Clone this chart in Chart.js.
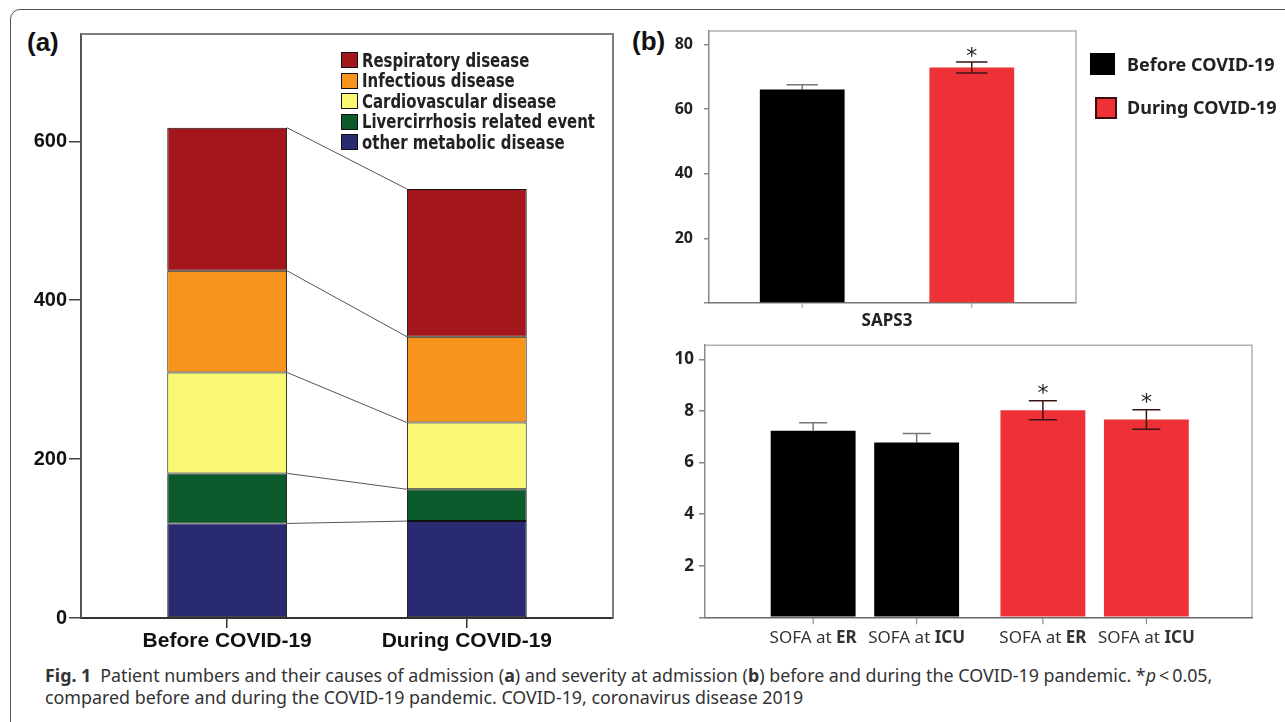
<!DOCTYPE html>
<html>
<head>
<meta charset="utf-8">
<script src="https://cdn.jsdelivr.net/npm/chart.js@4.4.1/dist/chart.umd.min.js"></script>
<style>
  html, body { margin:0; padding:0; background:#fff; }
  body { width:1285px; height:722px; overflow:hidden; position:relative; font-family:"Noto Sans", sans-serif; color:#222; }
  #frame { position:absolute; left:10px; top:9px; width:1320px; height:760px; border:1px solid #555; border-radius:10px; box-sizing:border-box; }
  canvas { position:absolute; }
  .panel { position:absolute; font-weight:700; font-family:"Liberation Sans", Arial, sans-serif; font-size:26px; line-height:1; color:#111; }
  #legA { position:absolute; left:341px; top:50px; }
  #legA .row { height:20.5px; display:flex; align-items:center; white-space:nowrap; }
  #legA .sw { width:15px; height:14px; border:1px solid #111; margin-right:4px; flex:none; }
  #legA .tx { display:inline-block; transform-origin:0 50%; font-family:"Liberation Sans Narrow","Arial Narrow","DejaVu Sans Condensed",sans-serif; font-weight:700; font-size:19px; color:#222; line-height:1; }
  #legB .sw { position:absolute; box-sizing:border-box; }
  #legB .tx { position:absolute; font-family:"Noto Sans", sans-serif; font-weight:700; font-size:18px; color:#222; white-space:nowrap; line-height:1; }
  #caption { position:absolute; left:45px; top:664px; font-family:"Noto Sans", sans-serif; font-size:16px; color:#333; line-height:22px; white-space:nowrap; }
  #caption div { display:block; }
  #caption span.line { display:inline-block; }
  #caption b.fig { font-weight:700; margin-right:0.5em; }
</style>
</head>
<body>
<div id="frame"></div>
<div class="panel" style="left:27px; top:29px;">(a)</div>
<div class="panel" style="left:632px; top:28px;">(b)</div>

<canvas id="chartA" width="640" height="660" style="left:0; top:0; width:640px; height:660px;"></canvas>
<div id="legA"></div>

<canvas id="chartB1" width="470" height="335" style="left:620px; top:0; width:470px; height:335px;"></canvas>
<div id="legB"></div>

<canvas id="chartB2" width="650" height="330" style="left:620px; top:330px; width:650px; height:330px;"></canvas>

<div id="caption">
  <div><span class="line" id="capLine1"><b class="fig">Fig. 1</b>Patient numbers and their causes of admission (<b>a</b>) and severity at admission (<b>b</b>) before and during the COVID-19 pandemic. *<i>p</i>&thinsp;&lt;&thinsp;0.05,</span></div>
  <div><span class="line">compared before and during the COVID-19 pandemic. COVID-19, coronavirus disease 2019</span></div>
</div>

<script>
// ---------------- DATA ----------------
// Panel (a): patient numbers by cause of admission
const periods = ['Before COVID-19', 'During COVID-19'];
const causeLabels = ['Respiratory disease', 'Infectious disease', 'Cardiovascular disease', 'Livercirrhosis related event', 'other metabolic disease'];
const respiratory = [180, 186];
const infectious = [128, 108];
const cardiovascular = [127, 84];
const livercirrhosis = [63, 40];
const otherMetabolic = [119, 122];
const countTicks = [0, 200, 400, 600];

// Panel (b) top: SAPS3
const sapsCategory = ['SAPS3'];
const sapsMean = [66.0, 72.8];      // before, during
const sapsErr = [1.5, 1.7];
const sapsSig = [false, true];
const sapsTicks = [20, 40, 60, 80];

// Panel (b) bottom: SOFA scores
const sofaPrefix = 'SOFA at ';
const sofaSites = ['ER', 'ICU'];
const sofaErMean = [7.23, 8.03];    // before, during
const sofaErErr = [0.31, 0.37];
const sofaIcuMean = [6.78, 7.67];
const sofaIcuErr = [0.35, 0.38];
const sofaErSig = [false, true];
const sofaIcuSig = [false, true];
const sofaTicks = [2, 4, 6, 8, 10];

// ---------------- STYLE ----------------
const causeColors = ['#A3161B', '#F7941E', '#FAF773', '#0B5A2B', '#2A2A72'];
const periodColors = ['#000000', '#EE3137'];
const errUpper = ['#777777', '#3a1414'];
const errLower = ['#000000', '#3a1414'];

// ---------------- PLUGINS ----------------
const boxPlugin = {
  id: 'box',
  afterDraw(chart, args, o) {
    const { left, right, top, bottom } = chart.chartArea;
    const ctx = chart.ctx;
    ctx.save();
    ctx.strokeStyle = o.color; ctx.lineWidth = o.width;
    ctx.beginPath();
    ctx.moveTo(left, top); ctx.lineTo(right, top); ctx.lineTo(right, bottom);
    ctx.stroke();
    ctx.restore();
  }
};

const connectorPlugin = {
  id: 'connectors',
  afterDatasetsDraw(chart, args, o) {
    const ctx = chart.ctx;
    ctx.save();
    ctx.strokeStyle = o.color; ctx.lineWidth = o.width;
    chart.data.datasets.forEach((ds, di) => {
      const els = chart.getDatasetMeta(di).data;
      for (let i = 0; i < els.length - 1; i++) {
        const a = els[i], b = els[i + 1];
        ctx.beginPath();
        ctx.moveTo(a.x + a.width / 2, a.y);
        ctx.lineTo(b.x - b.width / 2, b.y);
        ctx.stroke();
      }
    });
    ctx.restore();
  }
};

const errorBarPlugin = {
  id: 'errorBars',
  afterDatasetsDraw(chart, args, o) {
    const ctx = chart.ctx, ys = chart.scales.y;
    chart.data.datasets.forEach((ds, di) => {
      if (!ds.errors) return;
      const meta = chart.getDatasetMeta(di);
      meta.data.forEach((el, i) => {
        const raw = ds.data[i];
        const v = (typeof raw === 'object') ? raw.y : raw;
        const e = ds.errors[i];
        const pi = ds.periodIndex != null ? ds.periodIndex : i;
        const yTop = ys.getPixelForValue(v + e), yBot = ys.getPixelForValue(v - e);
        const cap = el.width * o.capRatio;
        ctx.save();
        ctx.lineWidth = o.width;
        ctx.strokeStyle = errLower[pi];
        ctx.beginPath();
        ctx.moveTo(el.x, el.y); ctx.lineTo(el.x, yBot);
        ctx.moveTo(el.x - cap / 2, yBot); ctx.lineTo(el.x + cap / 2, yBot);
        ctx.stroke();
        ctx.strokeStyle = errUpper[pi];
        ctx.beginPath();
        ctx.moveTo(el.x, el.y); ctx.lineTo(el.x, yTop);
        ctx.moveTo(el.x - cap / 2, yTop); ctx.lineTo(el.x + cap / 2, yTop);
        ctx.stroke();
        if (ds.sig && ds.sig[i]) {
          ctx.fillStyle = '#222';
          ctx.font = '22px "DejaVu Sans", sans-serif';
          ctx.textAlign = 'center';
          ctx.textBaseline = 'alphabetic';
          ctx.fillText('*', el.x, yTop + o.starOffset);
        }
        ctx.restore();
      });
    });
  }
};

const barTickPlugin = {
  id: 'barTicks',
  afterDraw(chart, args, o) {
    const ctx = chart.ctx, bottom = chart.chartArea.bottom;
    ctx.save();
    chart.data.datasets.forEach((ds, di) => {
      chart.getDatasetMeta(di).data.forEach((el) => {
        ctx.strokeStyle = o.color; ctx.lineWidth = 1;
        ctx.beginPath(); ctx.moveTo(el.x, bottom); ctx.lineTo(el.x, bottom + o.length); ctx.stroke();
        if (o.labels) {
          const pre = sofaPrefix, site = ds.label;
          ctx.font = o.font; const w1 = ctx.measureText(pre).width;
          ctx.font = o.boldFont; const w2 = ctx.measureText(site).width;
          const x0 = el.x - (w1 + w2) / 2;
          ctx.fillStyle = o.textColor; ctx.textBaseline = 'middle'; ctx.textAlign = 'left';
          ctx.font = o.font; ctx.fillText(pre, x0, bottom + o.textOffset);
          ctx.font = o.boldFont; ctx.fillText(site, x0 + w1, bottom + o.textOffset);
        }
      });
    });
    ctx.restore();
  }
};

// ---------------- PANEL (a) ----------------
const stackSeries = [otherMetabolic, livercirrhosis, cardiovascular, infectious, respiratory];
const stackNames = causeLabels.slice().reverse();
const stackColors = causeColors.slice().reverse();

new Chart(document.getElementById('chartA'), {
  type: 'bar',
  data: {
    datasets: stackSeries.map((arr, k) => ({
      label: stackNames[k],
      data: arr.map((v, i) => ({ x: i + 1, y: v })),
      backgroundColor: stackColors[k],
      borderColor: '#111',
      borderWidth: 1,
      borderSkipped: false,
      categoryPercentage: 0.5,
      barPercentage: 1.0
    }))
  },
  options: {
    responsive: false, animation: false, devicePixelRatio: 1,
    layout: { padding: { left: 0, right: 27, top: 34, bottom: 0 } },
    plugins: {
      legend: { display: false }, tooltip: { enabled: false },
      box: { color: '#7d7d7d', width: 2 },
      connectors: { color: '#555', width: 1 }
    },
    scales: {
      x: {
        type: 'linear', stacked: true, min: 0.39, max: 2.61, offset: false,
        afterBuildTicks: (s) => { s.ticks = periods.map((p, i) => ({ value: i + 1 })); },
        afterFit: (s) => { s.height = 42; },
        ticks: { callback: (v) => periods[Math.round(v) - 1], color: '#111', padding: 1, maxRotation: 0, autoSkip: false,
                 font: { family: '"Liberation Sans", Arial, sans-serif', size: 21, weight: 'bold' } },
        grid: { display: true, offset: false, drawOnChartArea: false, drawTicks: true, tickLength: 10, color: '#333', lineWidth: 1.5 },
        border: { display: true, color: '#333', width: 2 }
      },
      y: {
        stacked: true, min: 0, max: 735,
        afterBuildTicks: (s) => { s.ticks = countTicks.map(v => ({ value: v })); },
        afterFit: (s) => { s.width = 81; },
        ticks: { color: '#111', padding: 2,
                 font: { family: '"Liberation Sans", Arial, sans-serif', size: 20, weight: 'bold' } },
        grid: { display: true, drawOnChartArea: false, drawTicks: true, tickLength: 12, color: '#444', lineWidth: 1.5 },
        border: { display: true, color: '#555', width: 2 }
      }
    }
  },
  plugins: [boxPlugin, connectorPlugin]
});

// legend (a)
(function () {
  const leg = document.getElementById('legA');
  causeLabels.forEach((name, i) => {
    const row = document.createElement('div'); row.className = 'row';
    const sw = document.createElement('span'); sw.className = 'sw'; sw.style.background = causeColors[i];
    const tx = document.createElement('span'); tx.className = 'tx'; tx.textContent = name;
    row.appendChild(sw); row.appendChild(tx); leg.appendChild(row);
  });
})();

// ---------------- PANEL (b) top: SAPS3 ----------------
new Chart(document.getElementById('chartB1'), {
  type: 'bar',
  data: {
    datasets: periods.map((p, i) => ({
      label: p,
      data: [{ x: 1, y: sapsMean[i] }],
      errors: [sapsErr[i]],
      sig: [sapsSig[i]],
      periodIndex: i,
      backgroundColor: periodColors[i],
      borderWidth: 0,
      categoryPercentage: 0.924,
      barPercentage: 0.5
    }))
  },
  options: {
    responsive: false, animation: false, devicePixelRatio: 1,
    layout: { padding: { left: 0, right: 14, top: 31, bottom: 0 } },
    plugins: {
      legend: { display: false }, tooltip: { enabled: false },
      box: { color: '#b0b0b0', width: 1.5 },
      errorBars: { capRatio: 0.37, width: 1.5, starOffset: 1 },
      barTicks: { color: '#999', length: 5, labels: false }
    },
    scales: {
      x: {
        type: 'linear', min: 0.515, max: 1.515, offset: false,
        afterBuildTicks: (s) => { s.ticks = sapsCategory.map((c, i) => ({ value: i + 1 })); },
        afterFit: (s) => { s.height = 32; },
        ticks: { callback: (v) => sapsCategory[Math.round(v) - 1], color: '#222', padding: 8, maxRotation: 0,
                 font: { family: '"Noto Sans", sans-serif', size: 17, weight: 'bold' } },
        grid: { display: false, offset: false, drawTicks: false },
        border: { display: true, color: '#777', width: 1.5 }
      },
      y: {
        min: 0, max: 84.1,
        afterBuildTicks: (s) => { s.ticks = [0].concat(sapsTicks).map(v => ({ value: v })); },
        afterFit: (s) => { s.width = 89; },
        ticks: { callback: (v) => v === 0 ? '' : v, color: '#222', padding: 11,
                 font: { family: '"Noto Sans", sans-serif', size: 16, weight: 'bold' } },
        grid: { display: true, drawOnChartArea: false, drawTicks: true, tickLength: 5, color: '#888', lineWidth: 1.5 },
        border: { display: true, color: '#8a8a8a', width: 1.5 }
      }
    }
  },
  plugins: [boxPlugin, errorBarPlugin, barTickPlugin]
});

// legend (b)
(function () {
  const leg = document.getElementById('legB');
  const swPos = [{ l: 1090, t: 53, w: 25, h: 22, b: 'none' }, { l: 1095, t: 97, w: 22, h: 22, b: '2px solid #3a0d0d' }];
  const txTop = [55, 98];
  periods.forEach((p, i) => {
    const sw = document.createElement('div'); sw.className = 'sw';
    sw.style.cssText = `left:${swPos[i].l}px;top:${swPos[i].t}px;width:${swPos[i].w}px;height:${swPos[i].h}px;background:${periodColors[i]};border:${swPos[i].b};`;
    const tx = document.createElement('div'); tx.className = 'tx';
    tx.style.left = '1127px'; tx.style.top = txTop[i] + 'px'; tx.textContent = p;
    leg.appendChild(sw); leg.appendChild(tx);
  });
})();

// ---------------- PANEL (b) bottom: SOFA ----------------
const sofaMeans = [sofaErMean, sofaIcuMean];
const sofaErrs = [sofaErErr, sofaIcuErr];
const sofaSigs = [sofaErSig, sofaIcuSig];

new Chart(document.getElementById('chartB2'), {
  type: 'bar',
  data: {
    datasets: sofaSites.map((site, k) => ({
      label: site,
      data: periods.map((p, i) => ({ x: i + 1, y: sofaMeans[k][i] })),
      errors: sofaErrs[k],
      sig: sofaSigs[k],
      backgroundColor: periodColors,
      borderWidth: 0,
      categoryPercentage: 0.901,
      barPercentage: 0.82
    }))
  },
  options: {
    responsive: false, animation: false, devicePixelRatio: 1,
    layout: { padding: { left: 0, right: 18, top: 14, bottom: 0 } },
    plugins: {
      legend: { display: false }, tooltip: { enabled: false },
      box: { color: '#b0b0b0', width: 1.5 },
      errorBars: { capRatio: 0.33, width: 1.5, starOffset: -1 },
      barTicks: { color: '#777', length: 7, labels: true, textOffset: 21, textColor: '#333',
                  font: '17px "Noto Sans", sans-serif', boldFont: 'bold 17px "Noto Sans", sans-serif' }
    },
    scales: {
      x: {
        type: 'linear', min: 0.304, max: 2.685, offset: false,
        afterBuildTicks: (s) => { s.ticks = periods.map((p, i) => ({ value: i + 1 })); },
        afterFit: (s) => { s.height = 42.7; },
        ticks: { display: false },
        grid: { display: false, offset: false, drawTicks: false },
        border: { display: true, color: '#666', width: 1.5 }
      },
      y: {
        min: 0, max: 10.55,
        afterBuildTicks: (s) => { s.ticks = [0].concat(sofaTicks).map(v => ({ value: v })); },
        afterFit: (s) => { s.width = 85; },
        ticks: { callback: (v) => v === 0 ? '' : v, color: '#222', padding: 5,
                 font: { family: '"Noto Sans", sans-serif', size: 17, weight: 'bold' } },
        grid: { display: true, drawOnChartArea: false, drawTicks: true, tickLength: 6, color: '#888', lineWidth: 1.5 },
        border: { display: true, color: '#8a8a8a', width: 1.5 }
      }
    }
  },
  plugins: [boxPlugin, errorBarPlugin, barTickPlugin]
});

// ---------------- text fitting ----------------
(function fitText() {
  // legend (a): longest entry spans ~233px in the reference
  const txs = Array.from(document.querySelectorAll('#legA .tx'));
  const maxW = Math.max.apply(null, txs.map(t => t.getBoundingClientRect().width));
  const k = Math.min(1, 233 / maxW);
  txs.forEach(t => { t.style.transform = `scaleX(${k})`; });
  // caption: first line spans ~1168px in the reference
  const cap = document.getElementById('caption');
  const line1 = document.getElementById('capLine1');
  const w = line1.getBoundingClientRect().width;
  cap.style.fontSize = (16 * 1168 / w).toFixed(2) + 'px';
})();
</script>
</body>
</html>
